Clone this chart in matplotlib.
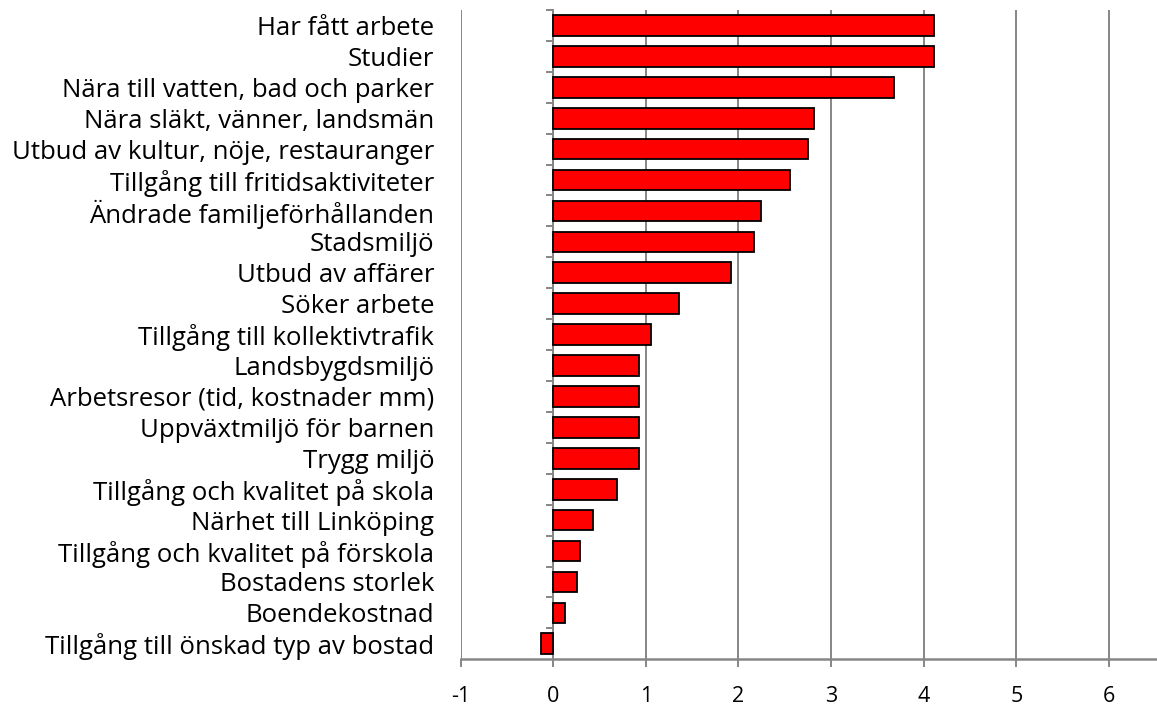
import numpy as np
import matplotlib
matplotlib.use("Agg")
import matplotlib.pyplot as plt

# Categories from top to bottom, with their values
categories = [
    "Har fått arbete",
    "Studier",
    "Nära till vatten, bad och parker",
    "Nära släkt, vänner, landsmän",
    "Utbud av kultur, nöje, restauranger",
    "Tillgång till fritidsaktiviteter",
    "Ändrade familjeförhållanden",
    "Stadsmiljö",
    "Utbud av affärer",
    "Söker arbete",
    "Tillgång till kollektivtrafik",
    "Landsbygdsmiljö",
    "Arbetsresor (tid, kostnader mm)",
    "Uppväxtmiljö för barnen",
    "Trygg miljö",
    "Tillgång och kvalitet på skola",
    "Närhet till Linköping",
    "Tillgång och kvalitet på förskola",
    "Bostadens storlek",
    "Boendekostnad",
    "Tillgång till önskad typ av bostad",
]
values = [4.11, 4.11, 3.68, 2.82, 2.75, 2.56, 2.24, 2.17, 1.92, 1.36, 1.06,
          0.93, 0.93, 0.93, 0.93, 0.69, 0.43, 0.29, 0.26, 0.13, -0.13]
x_ticks = [-1, 0, 1, 2, 3, 4, 5, 6]

plt.rcParams['font.family'] = ['Open Sans', 'DejaVu Sans']
grid_color = '#868686'

fig = plt.figure(figsize=(11.57, 7.07), dpi=100)
ax = fig.add_axes([0.3982, 0.0675, 0.6018, 0.9184])

y = np.arange(len(categories))
ax.barh(y, values, height=0.67, color='#ff0000', edgecolor='black', linewidth=1.3, zorder=3)

ax.set_xlim(-1, 6.52)
ax.set_ylim(len(categories) - 0.5, -0.5)

# Vertical gridlines
ax.set_xticks(x_ticks)
ax.set_xticklabels([str(t) for t in x_ticks], fontsize=15.5)
ax.xaxis.grid(True, color=grid_color, linewidth=1.4, zorder=0)
ax.tick_params(axis='x', length=5.5, width=1.4, color=grid_color, pad=13.5)

# Category labels on the left edge
ax.set_yticks(y)
ax.set_yticklabels(categories, fontsize=18.5)
ax.tick_params(axis='y', length=0, pad=19)

for side in ['left', 'right', 'top']:
    ax.spines[side].set_visible(False)
ax.spines['bottom'].set_color(grid_color)
ax.spines['bottom'].set_linewidth(1.8)

# Category axis at x = 0 with separator ticks
x0, x1 = ax.get_xlim()
zero_pos = (0 - x0) / (x1 - x0)
cat_axis = ax.secondary_yaxis(zero_pos)
cat_axis.set_yticks(np.arange(len(categories)) - 0.5)
cat_axis.set_yticklabels([])
cat_axis.tick_params(axis='y', length=5.3, width=1.4, color=grid_color)
cat_axis.spines['left'].set_color(grid_color)
cat_axis.spines['left'].set_linewidth(1.4)

fig.savefig("out.png", dpi=100)
